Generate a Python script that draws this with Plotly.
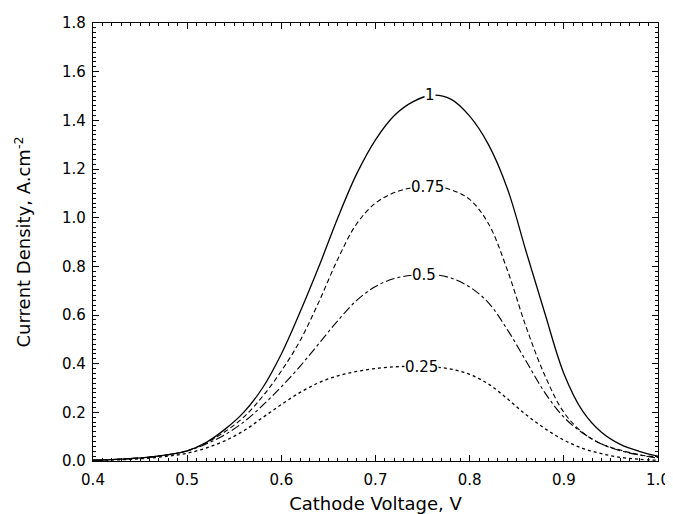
import plotly.graph_objects as go

voltage = [0.40, 0.42, 0.44, 0.46, 0.48, 0.50, 0.52, 0.54, 0.56, 0.58, 0.60,
           0.62, 0.64, 0.66, 0.68, 0.70, 0.72, 0.74, 0.76, 0.78, 0.80,
           0.82, 0.84, 0.86, 0.88, 0.90, 0.92, 0.94, 0.96, 0.98, 1.00]

j_100 = [0.003, 0.006, 0.010, 0.016, 0.026, 0.042, 0.076, 0.13, 0.20, 0.30, 0.44,
         0.613, 0.80, 1.00, 1.18, 1.32, 1.42, 1.477, 1.503, 1.487, 1.417,
         1.30, 1.12, 0.86, 0.605, 0.36, 0.205, 0.118, 0.068, 0.04, 0.02]

j_075 = [0.003, 0.006, 0.010, 0.016, 0.026, 0.042, 0.074, 0.12, 0.18, 0.265, 0.37,
         0.495, 0.655, 0.83, 0.975, 1.06, 1.103, 1.124, 1.13, 1.115, 1.075,
         0.975, 0.785, 0.55, 0.35, 0.20, 0.117, 0.07, 0.045, 0.026, 0.015]

j_050 = [0.003, 0.006, 0.010, 0.016, 0.026, 0.041, 0.07, 0.108, 0.16, 0.228, 0.305,
         0.39, 0.483, 0.577, 0.66, 0.717, 0.75, 0.764, 0.767, 0.752, 0.715,
         0.65, 0.54, 0.41, 0.28, 0.18, 0.115, 0.07, 0.042, 0.025, 0.012]

j_025 = [0.002, 0.004, 0.007, 0.012, 0.02, 0.032, 0.053, 0.083, 0.124, 0.178, 0.232,
         0.282, 0.322, 0.35, 0.368, 0.38, 0.387, 0.389, 0.387, 0.378, 0.356,
         0.316, 0.256, 0.19, 0.133, 0.086, 0.052, 0.03, 0.015, 0.007, 0.003]

series = [
    ("1", j_100, "solid", 1.3, 0.758, 1.504),
    ("0.75", j_075, "5px,3px", 1.1, 0.755, 1.128),
    ("0.5", j_050, "dashdot", 1.1, 0.751, 0.766),
    ("0.25", j_025, "dot", 1.3, 0.749, 0.385),
]

FONT = "DejaVu Sans, Liberation Sans, Arial"

fig = go.Figure()
for name, vals, dash, w, lx, ly in series:
    fig.add_trace(go.Scatter(x=voltage, y=vals, mode="lines", name=name,
                             line=dict(color="black", width=w, dash=dash, shape="spline"),
                             showlegend=False))
    fig.add_annotation(x=lx, y=ly, text=name, showarrow=False, bgcolor="white",
                       font=dict(size=15, color="black", family=FONT),
                       borderpad=0)

axis_common = dict(showline=True, linecolor="black", linewidth=1.2, mirror="allticks",
                   ticks="inside", ticklen=6, tickcolor="black", showgrid=False,
                   zeroline=False, automargin=False,
                   tickfont=dict(size=15, color="black", family=FONT))

fig.update_xaxes(range=[0.4, 1.0], dtick=0.1, tickformat=".1f", ticklabelstandoff=5,
                 minor=dict(dtick=0.01, ticks="inside", ticklen=3, tickcolor="black"),
                 title=dict(text="Cathode Voltage, V", standoff=12,
                            font=dict(size=18, color="black", family=FONT)),
                 **axis_common)
fig.update_yaxes(range=[0, 1.8], dtick=0.2, tickformat=".1f", ticklabelstandoff=3,
                 minor=dict(dtick=0.02, ticks="inside", ticklen=3, tickcolor="black"),
                 title=dict(text="Current Density, A.cm<sup>-2</sup>", standoff=26,
                            font=dict(size=18, color="black", family=FONT)),
                 **axis_common)

# page body has an 8px margin, so the figure is sized to fit the 673x514 window
fig.update_layout(width=665, height=506, paper_bgcolor="white", plot_bgcolor="white",
                  margin=dict(l=85, r=15, t=15, b=53))

fig.write_html("out.html")
